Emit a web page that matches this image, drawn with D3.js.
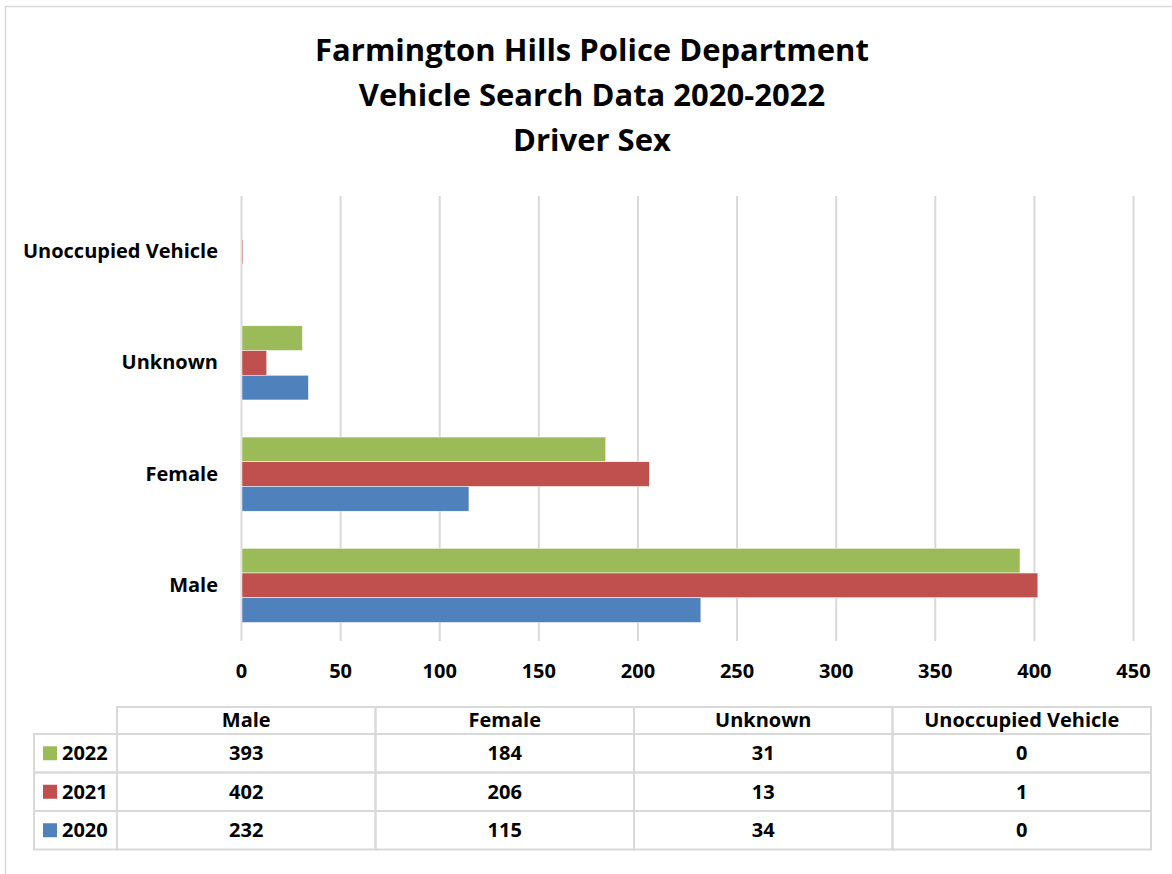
<!DOCTYPE html>
<html>
<head>
<meta charset="utf-8">
<script src="https://cdn.jsdelivr.net/npm/d3@7.9.0/dist/d3.min.js"></script>
<style>
  body { margin: 0; background: #fff; }
  svg text { font-family: "Open Sans", sans-serif; font-weight: bold; fill: #000; }
</style>
</head>
<body>
<svg id="chart" width="1172" height="874"></svg>
<script>
const titleLines = ['Farmington Hills Police Department', 'Vehicle Search Data 2020-2022', 'Driver Sex'];
const categories = ['Male', 'Female', 'Unknown', 'Unoccupied Vehicle'];
const years = ['2022', '2021', '2020'];
const colors = { '2022': '#9BBB59', '2021': '#C0504D', '2020': '#4F81BD' };
const values2022 = [393, 184, 31, 0];
const values2021 = [402, 206, 13, 1];
const values2020 = [232, 115, 34, 0];
const xTicks = [0, 50, 100, 150, 200, 250, 300, 350, 400, 450];

const seriesValues = { '2022': values2022, '2021': values2021, '2020': values2020 };

const width = 1172, height = 874;
const svg = d3.select('#chart');

// outer frame (only top & left visible)
svg.append('path')
  .attr('d', `M5.5,${height} V6.5 H${width}`)
  .attr('fill', 'none')
  .attr('stroke', '#d9d9d9')
  .attr('stroke-width', 1.5);

// title
svg.append('g')
  .selectAll('text')
  .data(titleLines)
  .join('text')
  .attr('x', 592)
  .attr('y', (d, i) => 61 + i * 45)
  .attr('text-anchor', 'middle')
  .style('font-size', '31px')
  .text(d => d);

const plot = { left: 241, right: 1133, top: 196, bottom: 641 };

const x = d3.scaleLinear().domain([0, 450]).range([plot.left, plot.right]);

// categories top to bottom: reversed order
const y = d3.scaleBand()
  .domain(categories.slice().reverse())
  .range([plot.top, plot.bottom])
  .paddingInner(1 / 3)
  .paddingOuter(1 / 6);

const ySub = d3.scaleBand()
  .domain(years)
  .range([0, y.bandwidth()]);

// gridlines
svg.append('g')
  .attr('class', 'grid')
  .attr('transform', `translate(0,${plot.bottom})`)
  .call(d3.axisBottom(x).tickValues(xTicks).tickFormat('').tickSize(-(plot.bottom - plot.top)))
  .call(g => g.select('.domain').remove())
  .call(g => g.selectAll('line').attr('stroke', '#d9d9d9').attr('stroke-width', 2));

// x tick labels
svg.append('g')
  .attr('transform', `translate(0,${plot.bottom})`)
  .call(d3.axisBottom(x).tickValues(xTicks).tickSize(0).tickPadding(23))
  .call(g => g.select('.domain').remove())
  .call(g => g.selectAll('text').style('font-size', '20px').style('font-family', '"Open Sans", sans-serif'));

// category labels
svg.append('g')
  .attr('transform', `translate(${plot.left},0)`)
  .call(d3.axisLeft(y).tickSize(0).tickPadding(23))
  .call(g => g.select('.domain').remove())
  .call(g => g.selectAll('text').style('font-size', '20px').style('font-family', '"Open Sans", sans-serif'));

// bars
const groups = svg.append('g')
  .selectAll('g')
  .data(categories)
  .join('g')
  .attr('transform', d => `translate(0,${y(d)})`);

groups.selectAll('rect')
  .data((d, i) => years.map(yr => ({ year: yr, value: seriesValues[yr][i] })))
  .join('rect')
  .attr('x', x(0) + 1)
  .attr('y', d => ySub(d.year))
  .attr('width', d => Math.max(0, x(d.value) - x(0) - (d.value > 0 ? 1 : 0)))
  .attr('height', ySub.bandwidth())
  .attr('fill', d => colors[d.year])
  .attr('stroke', d => d.value > 0 ? '#fff' : 'none')
  .attr('stroke-width', 0.5);

// data table
const tbl = { left: 117, legendLeft: 34, right: 1151, headerTop: 707, rowTop: 734, rowH: 38.5 };
const colX = d3.scaleBand().domain(categories).range([tbl.left, tbl.right]);
const rowY = d3.scaleBand().domain(years).range([tbl.rowTop, tbl.rowTop + tbl.rowH * years.length]);
const table = svg.append('g').attr('class', 'table');
const lineColor = '#d9d9d9';

// header cells
table.selectAll('rect.head')
  .data(categories)
  .join('rect')
  .attr('class', 'head')
  .attr('x', d => colX(d))
  .attr('y', tbl.headerTop)
  .attr('width', colX.bandwidth())
  .attr('height', tbl.rowTop - tbl.headerTop)
  .attr('fill', 'none')
  .attr('stroke', lineColor)
  .attr('stroke-width', 2);

table.selectAll('text.head')
  .data(categories)
  .join('text')
  .attr('class', 'head')
  .attr('x', d => colX(d) + colX.bandwidth() / 2)
  .attr('y', tbl.headerTop + 20)
  .attr('text-anchor', 'middle')
  .style('font-size', '20px')
  .text(d => d);

// body rows
const rows = table.selectAll('g.row')
  .data(years)
  .join('g')
  .attr('class', 'row')
  .attr('transform', d => `translate(0,${rowY(d)})`);

rows.append('rect')
  .attr('x', tbl.legendLeft)
  .attr('y', 0)
  .attr('width', tbl.left - tbl.legendLeft)
  .attr('height', rowY.bandwidth())
  .attr('fill', 'none')
  .attr('stroke', lineColor)
  .attr('stroke-width', 2);

rows.append('rect')
  .attr('x', tbl.legendLeft + 9)
  .attr('y', rowY.bandwidth() / 2 - 7)
  .attr('width', 14)
  .attr('height', 14)
  .attr('fill', d => colors[d]);

rows.append('text')
  .attr('x', tbl.legendLeft + 28)
  .attr('y', rowY.bandwidth() / 2 + 7)
  .style('font-size', '20px')
  .text(d => d);

rows.selectAll('rect.cell')
  .data(yr => categories.map((c, i) => ({ cat: c, value: seriesValues[yr][i] })))
  .join('rect')
  .attr('class', 'cell')
  .attr('x', d => colX(d.cat))
  .attr('y', 0)
  .attr('width', colX.bandwidth())
  .attr('height', rowY.bandwidth())
  .attr('fill', 'none')
  .attr('stroke', lineColor)
  .attr('stroke-width', 2);

rows.selectAll('text.cell')
  .data(yr => categories.map((c, i) => ({ cat: c, value: seriesValues[yr][i] })))
  .join('text')
  .attr('class', 'cell')
  .attr('x', d => colX(d.cat) + colX.bandwidth() / 2)
  .attr('y', rowY.bandwidth() / 2 + 7)
  .attr('text-anchor', 'middle')
  .style('font-size', '20px')
  .text(d => d.value);
</script>
</body>
</html>
